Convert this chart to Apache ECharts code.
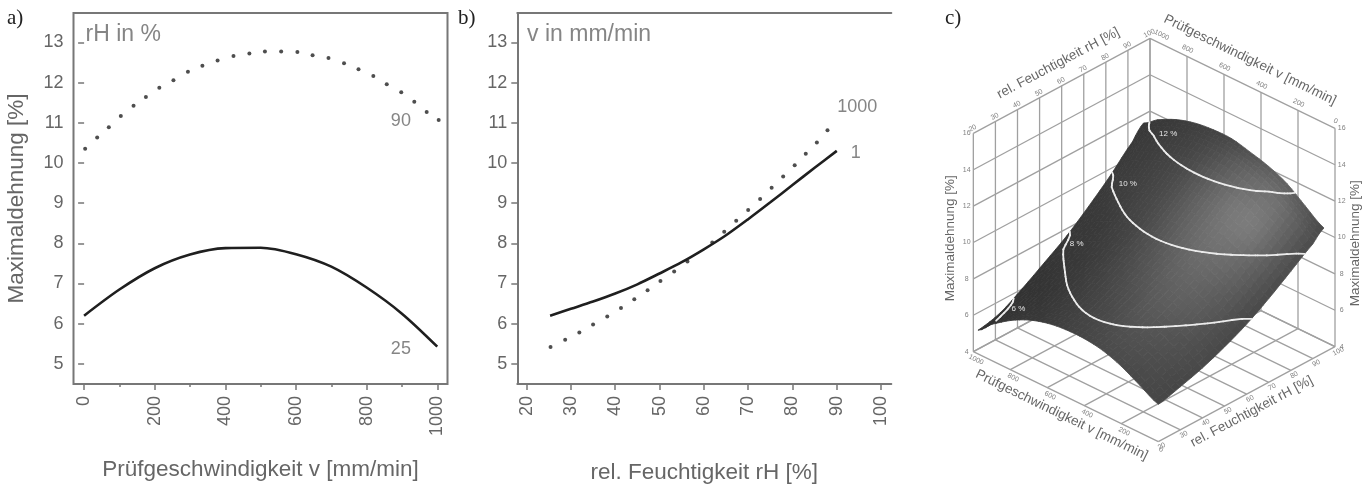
<!DOCTYPE html>
<html>
<head>
<meta charset="utf-8">
<style>
  html, body { margin: 0; padding: 0; background: #fff; }
  #chart { width: 1371px; height: 484px; filter: blur(0.5px); }
</style>
<script src="https://cdn.jsdelivr.net/npm/echarts@6/dist/echarts.min.js"></script>
</head>
<body>
<div id="chart"></div>
<script>
// Panel a: Maximaldehnung over Pruefgeschwindigkeit
const speedTicks = [0, 100, 200, 300, 400, 500, 600, 700, 800, 900, 1000];
const speedLabels = [0, 200, 400, 600, 800, 1000];
const strainTicks = [5, 6, 7, 8, 9, 10, 11, 12, 13];
const rh25Speed = [0, 100, 200, 300, 400, 500, 600, 700, 800, 900, 1000];
const rh25Strain = [6.2, 6.85, 7.38, 7.72, 7.88, 7.89, 7.73, 7.42, 6.9, 6.25, 5.43];
const rh90Speed = [3, 37, 70, 104, 140, 175, 213, 253, 294, 335, 378, 423, 468, 512, 558, 604, 647, 692, 736, 777, 819, 857, 898, 935, 970, 1004];
const rh90Strain = [10.35, 10.63, 10.89, 11.17, 11.42, 11.64, 11.87, 12.06, 12.27, 12.42, 12.55, 12.66, 12.72, 12.77, 12.77, 12.76, 12.68, 12.61, 12.48, 12.33, 12.16, 11.96, 11.76, 11.52, 11.27, 11.07];

// Panel b: Maximaldehnung over rel. Feuchtigkeit
const humidityTicks = [20, 30, 40, 50, 60, 70, 80, 90, 100];
const v1Humidity = [25.3, 30, 35, 40, 45, 50, 55, 60, 65, 70, 75, 80, 85, 90];
const v1Strain = [6.2, 6.37, 6.55, 6.75, 6.98, 7.25, 7.53, 7.85, 8.2, 8.6, 9.02, 9.45, 9.88, 10.3];
const v1000Humidity = [25.4, 28.7, 31.9, 35, 38.2, 41.3, 44.3, 47.3, 50.2, 53.3, 56.3, 61.9, 64.6, 67.3, 70, 72.7, 75.3, 77.9, 80.5, 83, 85.5, 87.9];
const v1000Strain = [5.42, 5.6, 5.78, 5.98, 6.18, 6.39, 6.61, 6.83, 7.06, 7.3, 7.55, 8.02, 8.29, 8.56, 8.83, 9.1, 9.38, 9.66, 9.94, 10.23, 10.51, 10.81];

// Panel c: surface, one row per humidity, one column per speed
const surfaceHumidity = [20, 30, 40, 50, 60, 70, 80, 90, 95];
const surfaceSpeed = [0, 100, 200, 300, 400, 500, 600, 700, 800, 900, 975];
const surfaceStrain = [
    [6.05, 6.6, 7.15, 7.52, 7.68, 7.68, 7.54, 7.22, 6.7, 6.0, 5.3],
    [6.37, 7.02, 7.54, 7.88, 8.04, 8.04, 7.89, 7.58, 7.06, 6.41, 5.6],
    [6.75, 7.43, 7.98, 8.36, 8.55, 8.58, 8.45, 8.17, 7.68, 7.07, 6.28],
    [7.25, 7.96, 8.54, 8.94, 9.16, 9.22, 9.12, 8.87, 8.41, 7.82, 7.05],
    [7.85, 8.58, 9.18, 9.6, 9.84, 9.92, 9.84, 9.61, 9.17, 8.6, 7.85],
    [8.6, 9.35, 9.98, 10.42, 10.68, 10.79, 10.73, 10.53, 10.11, 9.56, 8.83],
    [9.45, 10.23, 10.87, 11.34, 11.62, 11.75, 11.72, 11.53, 11.14, 10.62, 9.9],
    [10.3, 11.11, 11.79, 12.3, 12.62, 12.78, 12.78, 12.63, 12.28, 11.79, 11.1],
    [10.85, 11.55, 12.3, 12.76, 13.05, 13.29, 13.29, 13.16, 12.85, 12.35, 11.8]
];
const surfaceGrey = [
    [70, 72, 74, 74, 70, 66, 60, 56, 54, 52, 50],
    [70, 76, 80, 80, 74, 68, 62, 56, 52, 50, 48],
    [72, 80, 86, 88, 80, 72, 64, 58, 54, 52, 50],
    [72, 84, 94, 96, 88, 78, 68, 60, 56, 54, 52],
    [72, 88, 100, 104, 96, 84, 72, 64, 58, 56, 54],
    [74, 94, 110, 114, 104, 90, 76, 68, 62, 58, 56],
    [76, 100, 122, 120, 106, 90, 76, 68, 64, 60, 58],
    [76, 98, 112, 106, 94, 80, 70, 64, 60, 58, 56],
    [74, 88, 96, 92, 82, 72, 66, 62, 58, 56, 54]
];
const boxHumidityTicks = [20, 30, 40, 50, 60, 70, 80, 90, 100];
const boxSpeedTicks = [0, 200, 400, 600, 800, 1000];
const boxStrainTicks = [4, 6, 8, 10, 12, 14, 16];
const contourLevels = [6, 8, 10, 12];
const contourLabels = ['6 %', '8 %', '10 %', '12 %'];
const contourLabelHumidity = [32.4, 57.7, 79, 94];
const contourLabelSpeed = [904, 891, 869, 830];

const GREY_TEXT = '#666666';
const FRAME = '#777777';
const SANS = '"Liberation Sans", Arial, sans-serif';

// oblique view of the box, in a plane of 1323 x 1452 units laid over panel c
const project = (rh, v, z) => {
    const f = (rh - 20) / 80;
    const g = v / 1000;
    return [
        685 + 530 * f - 555 * g,
        1325 - 285 * f - 270 * g - 655 * (z - 4) / 12
    ];
};

// box grid lines
const boxLines = [];
const pushLine = (a, b) => boxLines.push([a[0], a[1], b[0], b[1]]);
boxHumidityTicks.forEach(rh => {
    pushLine(project(rh, 1000, 4), project(rh, 1000, 16));
    pushLine(project(rh, 0, 4), project(rh, 1000, 4));
});
boxSpeedTicks.forEach(v => {
    pushLine(project(100, v, 4), project(100, v, 16));
    pushLine(project(20, v, 4), project(100, v, 4));
});
boxStrainTicks.forEach(z => {
    pushLine(project(20, 1000, z), project(100, 1000, z));
    pushLine(project(100, 1000, z), project(100, 0, z));
});

// smooth the read-off table for drawing, the same way a smooth line does
const STEPS = 4;
const catmull = (p0, p1, p2, p3, t) => 0.5 * (2 * p1 + (p2 - p0) * t + (2 * p0 - 5 * p1 + 4 * p2 - p3) * t * t + (3 * p1 - p0 - 3 * p2 + p3) * t * t * t);
const smoothRow = (row) => {
    const out = [];
    for (let i = 0; i < row.length - 1; i++) {
        const p0 = row[Math.max(i - 1, 0)], p1 = row[i], p2 = row[i + 1], p3 = row[Math.min(i + 2, row.length - 1)];
        for (let s = 0; s < STEPS; s++) out.push(catmull(p0, p1, p2, p3, s / STEPS));
    }
    out.push(row[row.length - 1]);
    return out;
};
const transpose = (m) => m[0].map((_, j) => m.map(r => r[j]));
const smoothTable = (m) => transpose(transpose(m.map(smoothRow)).map(smoothRow));
const linearRow = (row) => {
    const out = [];
    for (let i = 0; i < row.length - 1; i++) {
        for (let s = 0; s < STEPS; s++) out.push(row[i] + (row[i + 1] - row[i]) * s / STEPS);
    }
    out.push(row[row.length - 1]);
    return out;
};
const fineRh = linearRow(surfaceHumidity);
const fineV = linearRow(surfaceSpeed);
const fineZ = smoothTable(surfaceStrain);
const fineGrey = smoothTable(surfaceGrey);

// surface patches, back to front
const patches = [];
for (let i = fineRh.length - 2; i >= 0; i--) {
    for (let j = fineV.length - 2; j >= 0; j--) {
        const a = project(fineRh[i], fineV[j], fineZ[i][j]);
        const b = project(fineRh[i + 1], fineV[j], fineZ[i + 1][j]);
        const c = project(fineRh[i + 1], fineV[j + 1], fineZ[i + 1][j + 1]);
        const d = project(fineRh[i], fineV[j + 1], fineZ[i][j + 1]);
        const grey = (fineGrey[i][j] + fineGrey[i + 1][j] + fineGrey[i + 1][j + 1] + fineGrey[i][j + 1]) / 4;
        patches.push({ depth: fineRh[i] / 80 + fineV[j] / 1000, row: [a[0], a[1], b[0], b[1], c[0], c[1], d[0], d[1], grey] });
    }
}
patches.sort((p, q) => q.depth - p.depth);

// level lines of the surface
const contourSegments = [];
contourLevels.forEach(level => {
    for (let i = 0; i < fineRh.length - 1; i++) {
        for (let j = 0; j < fineV.length - 1; j++) {
            const corners = [[i, j], [i + 1, j], [i + 1, j + 1], [i, j + 1]];
            const hits = [];
            corners.forEach((p, k) => {
                const q = corners[(k + 1) % 4];
                const z1 = fineZ[p[0]][p[1]], z2 = fineZ[q[0]][q[1]];
                if ((z1 - level) * (z2 - level) < 0) {
                    const t = (level - z1) / (z2 - z1);
                    const rh = fineRh[p[0]] + (fineRh[q[0]] - fineRh[p[0]]) * t;
                    const v = fineV[p[1]] + (fineV[q[1]] - fineV[p[1]]) * t;
                    hits.push(project(rh, v, level));
                }
            });
            if (hits.length >= 2) contourSegments.push([hits[0][0], hits[0][1], hits[1][0], hits[1][1]]);
        }
    }
});

// texts of panel c
const boxTexts = [];
const pushText = (p, dx, dy, text, rot, size, color) => boxTexts.push({ value: [p[0] + dx, p[1] + dy], text, rot, size, color });
boxHumidityTicks.forEach(rh => {
    pushText(project(rh, 1000, 16), -2, -15, String(rh), 28, 7, '#808080');
    pushText(project(rh, 0, 4), 10, 14, String(rh), 28, 7, '#808080');
});
boxSpeedTicks.forEach(v => {
    pushText(project(100, v, 16), v === 1000 ? 35 : 2, v === 1000 ? -10 : -22, String(v), -26, 7, '#808080');
    pushText(project(20, v, 4), 8, 24, String(v), -26, 7, '#808080');
});
boxStrainTicks.forEach(z => {
    pushText(project(20, 1000, z), -20, 0, String(z), 0, 7, '#808080');
    pushText(project(100, 0, z), 20, 0, String(z), 0, 7, '#808080');
});
contourLevels.forEach((level, i) => {
    pushText(project(contourLabelHumidity[i], contourLabelSpeed[i], level), 0, 0, contourLabels[i], 0, 8, '#e6e6e6');
});
boxTexts.push({ value: [385, 190], text: 'rel. Feuchtigkeit rH [%]', rot: 28, size: 13.5, color: GREY_TEXT });
boxTexts.push({ value: [960, 180], text: 'Prüfgeschwindigkeit v [mm/min]', rot: -26, size: 13.5, color: GREY_TEXT });
boxTexts.push({ value: [395, 1245], text: 'Prüfgeschwindigkeit v [mm/min]', rot: -26, size: 13.5, color: GREY_TEXT });
boxTexts.push({ value: [965, 1235], text: 'rel. Feuchtigkeit rH [%]', rot: 28, size: 13.5, color: GREY_TEXT });
boxTexts.push({ value: [62, 715], text: 'Maximaldehnung [%]', rot: 90, size: 13.5, color: GREY_TEXT });
boxTexts.push({ value: [1275, 730], text: 'Maximaldehnung [%]', rot: 90, size: 13.5, color: GREY_TEXT });

const zipXY = (xs, ys) => xs.map((x, i) => [x, ys[i]]);

const tickLabelStyle = { color: GREY_TEXT, fontSize: 18, fontFamily: SANS, formatter: (value) => String(value) };
const axisNameStyle = { color: GREY_TEXT, fontSize: 22.5, fontFamily: SANS };

// short annotations inside panels a and b
const noteSeries = (xIndex, yIndex, notes, fontSize) => ({
    type: 'scatter',
    xAxisIndex: xIndex,
    yAxisIndex: yIndex,
    symbolSize: 0,
    silent: true,
    data: notes.map(n => ({ value: [n[0], n[1]], name: n[2] })),
    label: {
        show: true,
        position: 'inside',
        formatter: '{b}',
        color: '#666666',
        fontFamily: SANS,
        fontSize
    }
});

const option = {
    animation: false,
    backgroundColor: '#fff',
    textStyle: { fontFamily: SANS },
    graphic: [
        { type: 'text', left: 7, top: 8, style: { text: 'a)', font: '21px "Liberation Serif"', fill: '#222' } },
        { type: 'text', left: 458, top: 8, style: { text: 'b)', font: '21px "Liberation Serif"', fill: '#222' } },
        { type: 'text', left: 945, top: 8, style: { text: 'c)', font: '21px "Liberation Serif"', fill: '#222' } }
    ],
    grid: [
        { left: 73.5, width: 374, top: 13, height: 371, outerBoundsMode: 'none', show: true, borderColor: FRAME, borderWidth: 2, backgroundColor: 'transparent' },
        { left: 517.3, width: 374, top: 13, height: 371, outerBoundsMode: 'none' },
        { left: 930, width: 441, top: 0, height: 484, outerBoundsMode: 'none' }
    ],
    xAxis: [
        {
            type: 'value', gridIndex: 0, min: -30, max: 1029, position: 'bottom',
            name: 'Prüfgeschwindigkeit v [mm/min]', nameLocation: 'middle', nameGap: 74, nameTextStyle: axisNameStyle,
            splitLine: { show: false },
            axisLine: { show: false },
            axisTick: { show: true, length: 6, customValues: speedLabels, lineStyle: { color: FRAME, width: 1.5 } },
            axisLabel: { customValues: speedLabels, rotate: 90, margin: 12, ...tickLabelStyle }
        },
        {
            type: 'value', gridIndex: 0, min: -30, max: 1029, position: 'bottom',
            splitLine: { show: false },
            axisLine: { show: false },
            axisLabel: { show: false },
            axisTick: { show: true, length: 3, customValues: speedTicks, lineStyle: { color: FRAME, width: 1.5 } }
        },
        {
            type: 'value', gridIndex: 1, min: 17.9, max: 102.3, position: 'bottom',
            name: 'rel. Feuchtigkeit rH [%]', nameLocation: 'middle', nameGap: 77, nameTextStyle: axisNameStyle,
            splitLine: { show: false },
            axisLine: { show: true, onZero: false, lineStyle: { color: FRAME, width: 2 } },
            axisTick: { show: true, length: 6, customValues: humidityTicks, lineStyle: { color: FRAME, width: 1.5 } },
            axisLabel: { customValues: humidityTicks, rotate: 90, margin: 12, ...tickLabelStyle }
        },
        {
            type: 'value', gridIndex: 1, min: 17.9, max: 102.3, position: 'top',
            splitLine: { show: false },
            axisLine: { show: true, onZero: false, lineStyle: { color: FRAME, width: 2 } },
            axisTick: { show: false },
            axisLabel: { show: false }
        },
        { type: 'value', gridIndex: 2, min: 0, max: 1323, show: false }
    ],
    yAxis: [
        {
            type: 'value', gridIndex: 0, min: 4.5, max: 13.73,
            name: 'Maximaldehnung [%]', nameLocation: 'middle', nameGap: 45, nameTextStyle: axisNameStyle,
            splitLine: { show: false },
            axisLine: { show: false },
            axisTick: { show: true, length: 6, customValues: strainTicks, lineStyle: { color: FRAME, width: 1.5 } },
            axisLabel: { customValues: strainTicks, margin: 10, ...tickLabelStyle }
        },
        {
            type: 'value', gridIndex: 1, min: 4.5, max: 13.73,
            splitLine: { show: false },
            axisLine: { show: true, onZero: false, lineStyle: { color: FRAME, width: 2 } },
            axisTick: { show: true, length: 6, customValues: strainTicks, lineStyle: { color: FRAME, width: 1.5 } },
            axisLabel: { customValues: strainTicks, margin: 10, ...tickLabelStyle }
        },
        { type: 'value', gridIndex: 2, min: 0, max: 1452, inverse: true, show: false }
    ],
    series: [
        {
            name: 'rH 25', type: 'line', xAxisIndex: 0, yAxisIndex: 0, smooth: 0.3, symbol: 'none',
            lineStyle: { color: '#1f1f1f', width: 2.6 }, data: zipXY(rh25Speed, rh25Strain)
        },
        {
            name: 'rH 90', type: 'scatter', xAxisIndex: 0, yAxisIndex: 0, symbolSize: 4,
            itemStyle: { color: '#222222' }, data: zipXY(rh90Speed, rh90Strain)
        },
        noteSeries(0, 0, [[897, 11.05, '90'], [897, 5.36, '25']], 18),
        noteSeries(0, 0, [[111, 13.2, 'rH in %']], 23),
        {
            name: 'v 1', type: 'line', xAxisIndex: 2, yAxisIndex: 1, smooth: 0.3, symbol: 'none',
            lineStyle: { color: '#1f1f1f', width: 2.6 }, data: zipXY(v1Humidity, v1Strain)
        },
        {
            name: 'v 1000', type: 'scatter', xAxisIndex: 2, yAxisIndex: 1, symbolSize: 4,
            itemStyle: { color: '#222222' }, data: zipXY(v1000Humidity, v1000Strain)
        },
        noteSeries(2, 1, [[94.6, 11.4, '1000'], [94.3, 10.24, '1']], 18),
        noteSeries(2, 1, [[34.1, 13.2, 'v in mm/min']], 23),
        {
            name: 'box', type: 'custom', xAxisIndex: 4, yAxisIndex: 2, silent: true, clip: false,
            data: boxLines,
            encode: { x: [0, 2], y: [1, 3] },
            renderItem: (params, api) => {
                const a = api.coord([api.value(0), api.value(1)]);
                const b = api.coord([api.value(2), api.value(3)]);
                return { type: 'line', shape: { x1: a[0], y1: a[1], x2: b[0], y2: b[1] }, style: { stroke: '#a0a0a0', lineWidth: 1.3 } };
            }
        },
        {
            name: 'surface', type: 'custom', xAxisIndex: 4, yAxisIndex: 2, silent: true, clip: false,
            data: patches.map(p => p.row),
            encode: { x: [0, 2, 4, 6], y: [1, 3, 5, 7] },
            renderItem: (params, api) => {
                const points = [0, 2, 4, 6].map(k => api.coord([api.value(k), api.value(k + 1)]));
                const g = Math.round(api.value(8));
                const color = 'rgb(' + g + ',' + g + ',' + g + ')';
                return { type: 'polygon', shape: { points }, style: { fill: color, stroke: color, lineWidth: 0.8 } };
            }
        },
        {
            name: 'contours', type: 'custom', xAxisIndex: 4, yAxisIndex: 2, silent: true, clip: false,
            data: contourSegments,
            encode: { x: [0, 2], y: [1, 3] },
            renderItem: (params, api) => {
                const a = api.coord([api.value(0), api.value(1)]);
                const b = api.coord([api.value(2), api.value(3)]);
                return { type: 'line', shape: { x1: a[0], y1: a[1], x2: b[0], y2: b[1] }, style: { stroke: '#ececec', lineWidth: 1.8, lineCap: 'round' } };
            }
        },
        {
            name: 'box texts', type: 'custom', xAxisIndex: 4, yAxisIndex: 2, silent: true, clip: false,
            data: boxTexts,
            renderItem: (params, api) => {
                const item = boxTexts[params.dataIndex];
                const p = api.coord(item.value);
                return {
                    type: 'text',
                    x: p[0],
                    y: p[1],
                    rotation: item.rot * Math.PI / 180,
                    style: {
                        text: item.text,
                        fill: item.color,
                        font: item.size + 'px ' + SANS,
                        textAlign: 'center',
                        textVerticalAlign: 'middle',
                        align: 'center',
                        verticalAlign: 'middle'
                    }
                };
            }
        }
    ]
};

const chart = echarts.init(document.getElementById('chart'));
chart.setOption(option);
window.addEventListener('resize', () => {
    chart.resize();
});
</script>
</body>
</html>
